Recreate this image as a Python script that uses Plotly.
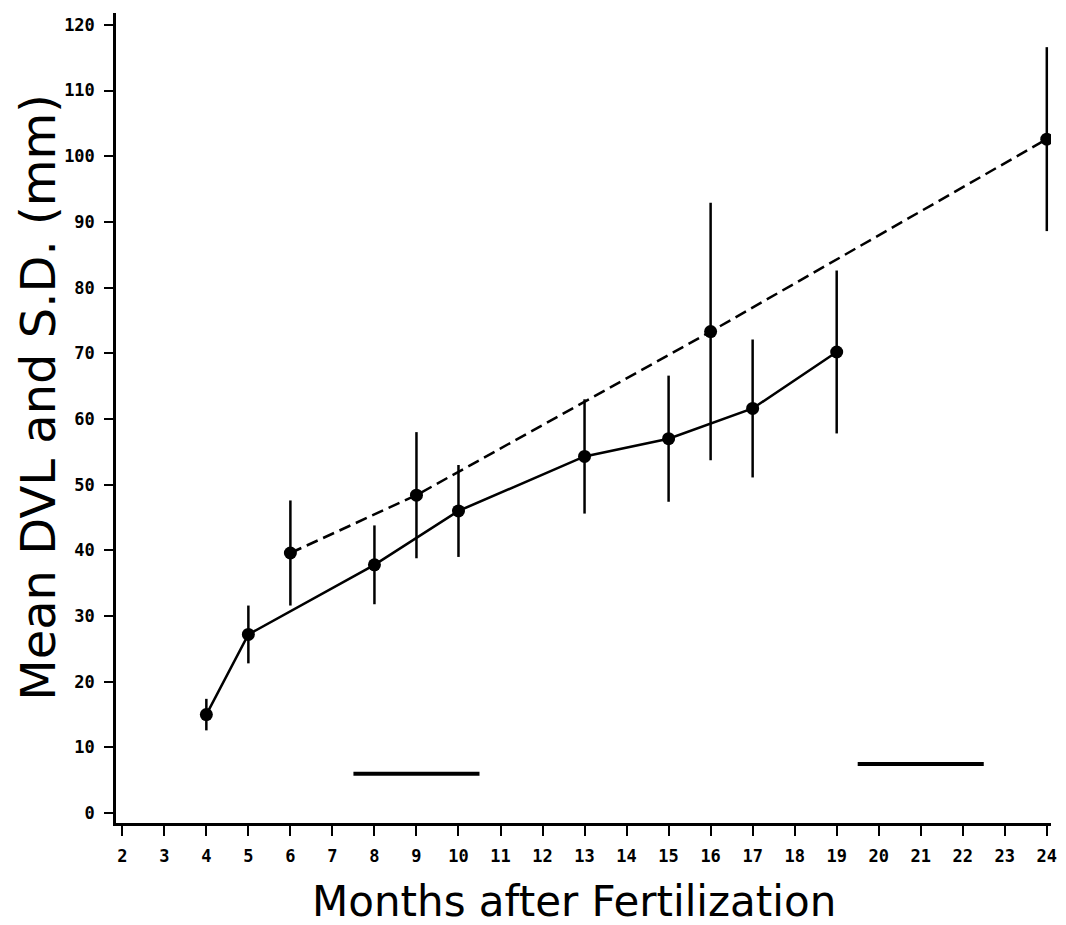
import plotly.graph_objects as go

# Solid series (group 1)
solid_months = [4, 5, 8, 10, 13, 15, 17, 19]
solid_mean = [15.0, 27.2, 37.8, 46.0, 54.3, 57.0, 61.6, 70.2]
solid_sd = [2.4, 4.4, 6.0, 7.0, 8.7, 9.6, 10.5, 12.4]

# Dashed series (group 2)
dashed_months = [6, 9, 16, 24]
dashed_mean = [39.6, 48.4, 73.3, 102.6]
dashed_sd = [8.0, 9.6, 19.6, 14.0]

# Horizontal period bars
bar1_x = [7.5, 10.5]
bar1_y = [6.0, 6.0]
bar2_x = [19.5, 22.5]
bar2_y = [7.5, 7.5]

x_ticks = list(range(2, 25))
y_ticks = list(range(0, 121, 10))

fig = go.Figure()

fig.add_trace(go.Scatter(
    x=dashed_months, y=dashed_mean, mode="lines+markers",
    line=dict(color="black", width=2.5, dash="12px,6px"),
    marker=dict(color="black", size=13),
    error_y=dict(type="data", array=dashed_sd, visible=True, color="black",
                 thickness=2.5, width=0),
    showlegend=False))

fig.add_trace(go.Scatter(
    x=solid_months, y=solid_mean, mode="lines+markers",
    line=dict(color="black", width=2.5),
    marker=dict(color="black", size=13),
    error_y=dict(type="data", array=solid_sd, visible=True, color="black",
                 thickness=2.5, width=0),
    showlegend=False))

for bx, by in [(bar1_x, bar1_y), (bar2_x, bar2_y)]:
    fig.add_trace(go.Scatter(x=bx, y=by, mode="lines",
                             line=dict(color="black", width=4),
                             showlegend=False, hoverinfo="skip"))

tick_font = dict(family="DejaVu Sans Mono", size=17, color="black", weight="bold")

fig.update_layout(
    width=1066, height=925,
    paper_bgcolor="white", plot_bgcolor="white",
    margin=dict(l=108, r=23, t=5, b=110),
    xaxis=dict(
        range=[1.85, 24.1], tickvals=x_ticks, ticktext=[str(t) for t in x_ticks],
        ticks="outside", ticklen=10, tickwidth=2, tickcolor="black",
        showline=True, linecolor="black", linewidth=2.5, ticklabelstandoff=6,
        showgrid=False, zeroline=False, tickfont=tick_font,
    ),
    yaxis=dict(
        range=[-1.5, 121.8], tickvals=y_ticks, ticktext=[str(t) for t in y_ticks],
        ticks="outside", ticklen=9, tickwidth=2, tickcolor="black",
        showline=True, linecolor="black", linewidth=2.5, ticklabelstandoff=6,
        showgrid=False, zeroline=False, tickfont=tick_font,
    ),
    annotations=[
        dict(text="Months after Fertilization", xref="paper", yref="paper",
             x=0.49, y=-0.097, xanchor="center", yanchor="middle",
             showarrow=False,
             font=dict(family="DejaVu Sans", size=42, color="black")),
        dict(text="Mean DVL and S.D. (mm)", xref="paper", yref="paper",
             x=-0.0834, y=0.525, xanchor="center", yanchor="middle",
             textangle=-90, showarrow=False,
             font=dict(family="DejaVu Sans", size=48, color="black")),
    ],
)

fig.write_html("out.html")
